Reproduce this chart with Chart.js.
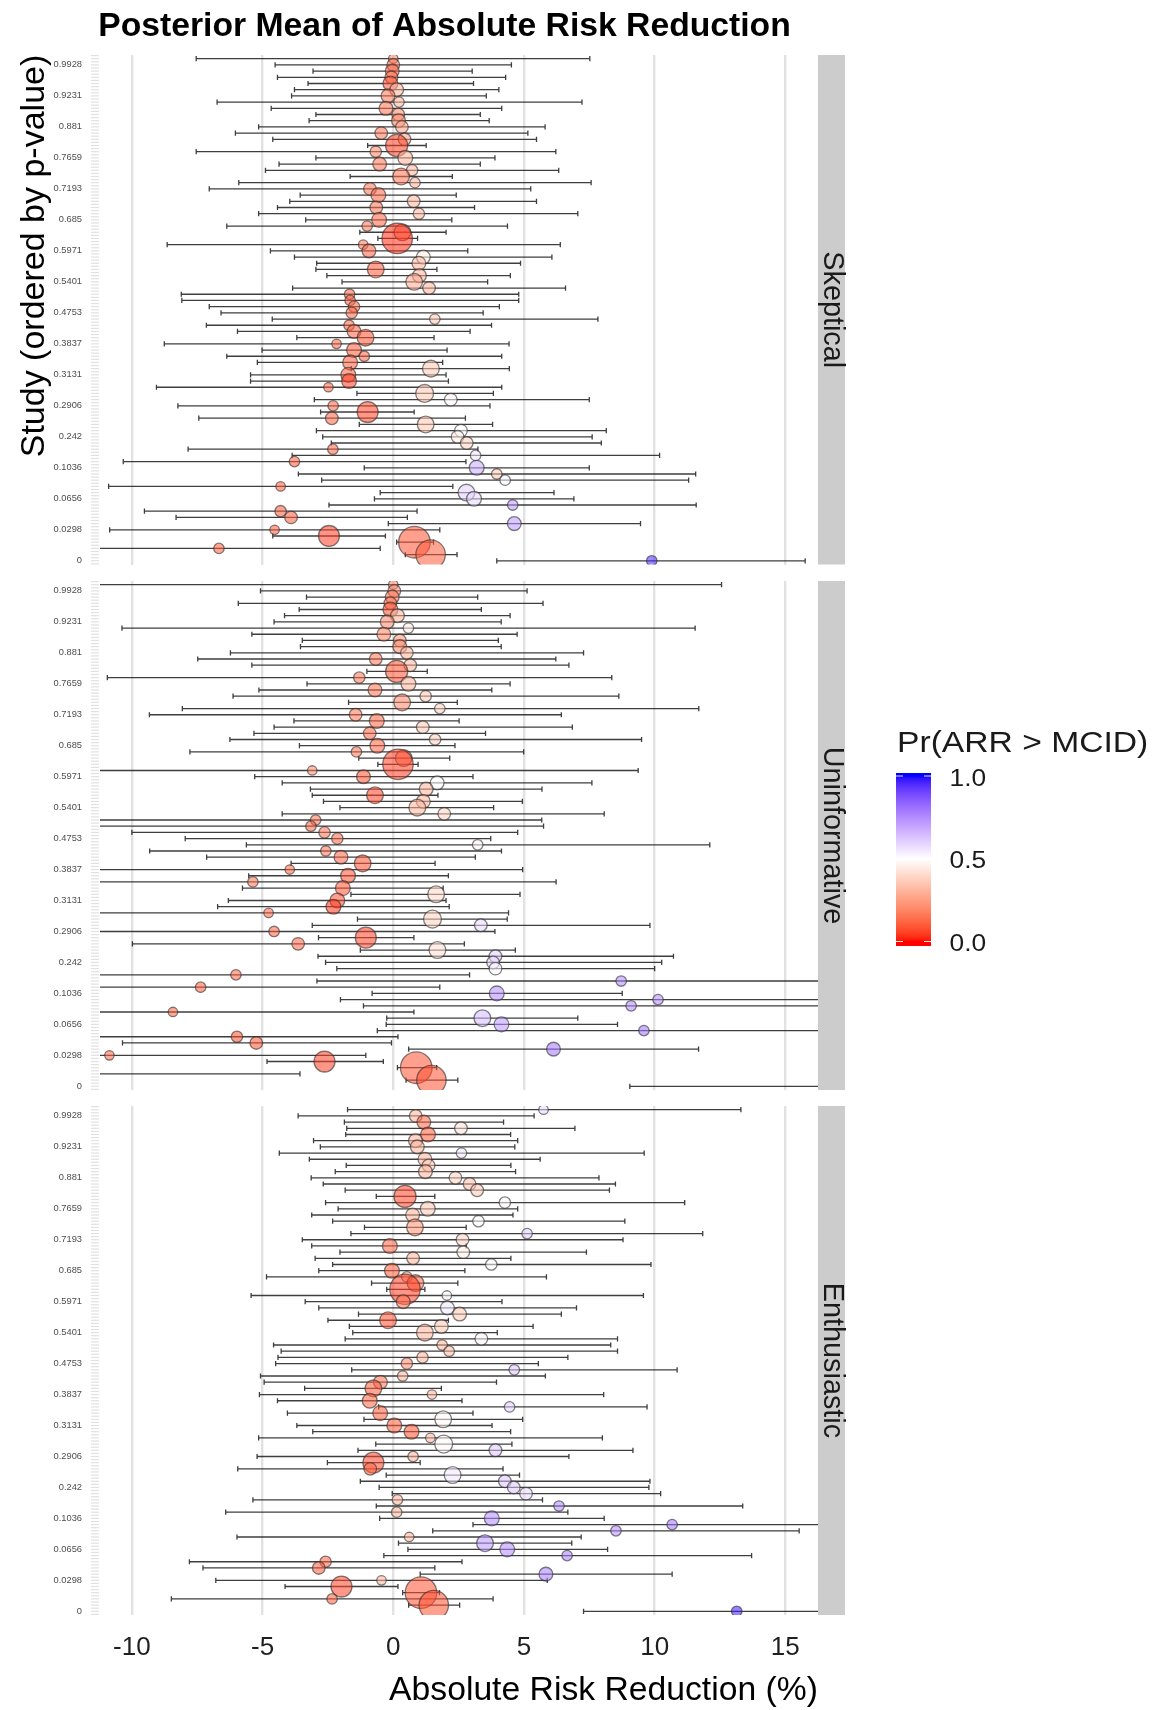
<!DOCTYPE html>
<html>
<head>
<meta charset="utf-8">
<script src="https://cdn.jsdelivr.net/npm/chart.js@4.4.1/dist/chart.umd.min.js"></script>
<style>
  body { margin: 0; background: #fff; }
  #wrap { position: relative; width: 1153px; height: 1710px; }
  #wrap canvas { position: absolute; left: 0; top: 0; }
</style>
</head>
<body>
<div id="wrap">
  <canvas id="skeptical" width="1153" height="1710"></canvas>
  <canvas id="uninformative" width="1153" height="1710"></canvas>
  <canvas id="enthusiastic" width="1153" height="1710"></canvas>
</div>
<script>
// studies top -> bottom (ordered by p-value), every 5th one labelled
var pLabels = ['0.9928','0.9231','0.881','0.7659','0.7193','0.685','0.5971','0.5401','0.4753',
  '0.3837','0.3131','0.2906','0.242','0.1036','0.0656','0.0298','0'];

// relative study weight (bubble size)
var studyWeight = [9,16,19,16,22,19,19,11,19,16, 19,16,16,16,49,13,22,19,13,28,
  11,16,22,16,16,13,22,11,28,93, 9,19,19,19,28,19,28,16,11,11,
  13,13,11,11,19,28,9,22,11,22, 28,22,22,9,32,16,11,44,16,28,
  16,16,16,11,11,11,22,11,11,9, 28,22,11,13,16,19,9,44,100,11, 87,11];

// Skeptical prior
var skepMean = [0.0,0.0,-0.04,-0.07,-0.11,0.13,-0.2,0.22,-0.28,0.19,
  0.2,0.33,-0.46,0.43,0.13,-0.67,0.46,-0.52,0.72,0.3,
  0.83,-0.89,-0.57,0.78,-0.65,0.98,-0.54,-1.0,0.35,0.15,
  -1.15,-0.93,1.15,0.98,-0.67,1.0,0.8,1.37,-1.67,-1.65,
  -1.5,-1.59,1.59,-1.69,-1.5,-1.06,-2.17,-1.5,-1.11,-1.65,
  1.44,-1.72,-1.69,-2.48,1.2,2.2,-2.3,-0.98,-2.35,1.24,
  2.59,2.46,2.81,-2.31,3.15,-3.78,3.19,3.96,4.28,-4.31,
  2.8,3.09,4.57,-4.31,-3.91,4.63,-4.54,-2.46,0.81,-6.67, 1.43,9.89];
var skepLo = [-7.54,-4.52,-3.07,-4.43,-3.26,-3.78,-3.89,-6.74,-4.67,-2.96,
  -3.22,-5.15,-6.04,-4.61,-0.98,-7.54,-2.96,-4.37,-4.89,-1.65,
  -5.91,-7.04,-3.56,-3.96,-4.43,-5.15,-3.35,-6.37,-1.28,-0.59,
  -8.65,-4.7,-3.78,-2.93,-2.96,-2.54,-1.96,-3.85,-8.11,-8.09,
  -7.04,-6.59,-4.63,-7.15,-5.96,-3.69,-8.76,-5.02,-6.37,-5.2,
  -1.61,-5.46,-5.46,-9.06,-1.39,-3.02,-8.24,-2.78,-7.44,-1.3,
  -2.94,-2.7,-2.37,-7.85,-3.87,-10.33,-1.11,-3.63,-2.74,-10.89,
  -0.5,-0.72,-2.46,-9.52,-8.31,-0.19,-10.85,-4.61,0.13,-11.8, 0.46,3.96];
var skepHi = [7.52,4.52,3.02,4.3,3.07,4.04,3.56,7.22,4.15,3.33,
  3.67,5.81,5.15,5.48,1.26,6.22,3.89,3.33,6.33,2.26,
  7.57,5.26,2.41,5.48,3.11,7.06,2.24,4.37,2.02,0.93,
  6.39,2.85,6.07,4.87,1.67,4.48,3.61,6.59,4.8,4.8,
  4.06,3.44,7.83,3.76,2.94,1.56,4.43,2.06,4.15,1.89,
  4.44,2.02,2.11,4.15,3.83,7.5,3.7,0.8,2.76,3.8,
  8.15,7.61,7.96,3.24,10.19,2.78,7.5,11.57,11.3,2.28,
  6.15,6.91,11.59,0.91,0.54,9.46,1.78,-0.3,1.54,-0.5, 2.44,15.76];
var skepProb = [0.2,0.15,0.12,0.15,0.08,0.3,0.15,0.3,0.15,0.2,
  0.2,0.25,0.15,0.25,0.05,0.18,0.3,0.15,0.3,0.15,
  0.3,0.15,0.12,0.3,0.15,0.3,0.12,0.15,0.15,0.03,
  0.15,0.12,0.45,0.3,0.1,0.3,0.28,0.3,0.12,0.12,
  0.12,0.12,0.35,0.12,0.12,0.08,0.12,0.1,0.12,0.1,
  0.35,0.1,0.05,0.12,0.35,0.48,0.12,0.06,0.12,0.35,
  0.5,0.45,0.38,0.12,0.55,0.1,0.68,0.35,0.52,0.1,
  0.6,0.58,0.72,0.1,0.1,0.72,0.1,0.05,0.08,0.1, 0.1,0.95];

// Uninformative prior
var uninfMean = [0.0,0.04,-0.04,-0.11,-0.11,0.16,-0.23,0.58,-0.36,0.25,
  0.25,0.52,-0.67,0.65,0.13,-1.3,0.58,-0.7,1.24,0.34,
  1.78,-1.44,-0.63,1.13,-0.9,1.6,-0.61,-1.41,0.4,0.18,
  -3.1,-1.14,1.68,1.26,-0.7,1.15,0.92,1.95,-2.97,-3.15,
  -2.63,-2.14,3.23,-2.58,-2.0,-1.17,-3.96,-1.73,-5.37,-1.93,
  1.64,-2.14,-2.29,-4.77,1.5,3.35,-4.56,-1.05,-3.64,1.69,
  3.91,3.82,3.91,-6.02,8.72,-7.37,3.96,10.13,9.1,-8.43,
  3.41,4.14,9.59,-5.98,-5.24,6.13,-10.86,-2.63,0.88,-12.6, 1.46,18.4];
var uninfLo = [-12.6,-5.08,-3.32,-5.93,-3.6,-4.16,-4.56,-10.38,-5.41,-3.48,
  -3.55,-6.23,-7.48,-5.41,-1.01,-10.94,-3.3,-5.14,-6.13,-1.71,
  -8.07,-9.33,-3.8,-4.56,-5.33,-6.25,-3.59,-7.78,-1.32,-0.59,
  -13.2,-5.3,-4.25,-3.17,-3.1,-2.67,-2.04,-4.25,-11.8,-12.1,
  -10.0,-7.96,-5.62,-9.32,-7.14,-3.91,-12.9,-5.53,-17.0,-5.77,
  -1.62,-6.31,-6.72,-13.9,-1.37,-3.1,-13.0,-2.86,-9.98,-1.26,
  -2.88,-2.59,-2.16,-15.0,-2.92,-16.5,-0.81,-2.02,-1.14,-17.6,
  -0.25,-0.27,-0.61,-12.1,-10.36,0.59,-20.7,-4.83,0.16,-21.6, 0.49,9.05];
var uninfHi = [12.56,5.12,3.23,5.73,3.37,4.47,4.13,11.55,4.74,4.02,
  4.13,7.28,6.22,6.72,1.3,8.36,4.47,3.77,8.63,2.45,
  11.69,6.43,2.52,6.85,3.53,9.5,2.36,4.99,2.16,0.95,
  9.37,3.05,7.6,5.69,1.71,4.94,3.84,8.07,5.68,5.75,
  4.76,3.73,12.11,4.14,3.14,1.6,4.95,2.11,6.23,1.91,
  4.85,2.02,2.14,4.41,4.36,9.82,3.89,0.79,2.72,4.67,
  10.72,10.27,10.0,2.92,20.4,1.78,8.76,22.3,19.3,0.79,
  7.06,8.58,19.8,0.18,-0.07,11.68,-1.05,-0.38,1.66,-3.57, 2.47,27.8];
var uninfProb = [0.2,0.2,0.15,0.15,0.08,0.3,0.2,0.45,0.18,0.22,
  0.2,0.3,0.15,0.3,0.08,0.15,0.3,0.15,0.35,0.2,
  0.38,0.15,0.12,0.35,0.12,0.38,0.12,0.15,0.15,0.05,
  0.2,0.08,0.5,0.3,0.06,0.3,0.3,0.38,0.15,0.12,
  0.15,0.12,0.48,0.15,0.12,0.08,0.12,0.08,0.15,0.08,
  0.4,0.08,0.04,0.12,0.38,0.58,0.12,0.06,0.12,0.42,
  0.6,0.58,0.52,0.12,0.75,0.1,0.75,0.75,0.75,0.12,
  0.65,0.72,0.8,0.08,0.08,0.8,0.12,0.05,0.08,0.1, 0.08,0.95];

// Enthusiastic prior
var enthMean = [5.75,0.86,1.17,2.59,1.33,0.85,0.92,2.61,1.21,1.35,
  1.23,2.38,2.92,3.21,0.45,4.27,1.32,0.74,3.26,0.83,
  5.12,2.65,-0.13,2.68,0.76,3.75,-0.05,0.52,0.85,0.45,
  2.05,0.38,2.07,2.54,-0.2,1.84,1.21,3.37,1.87,2.14,
  1.12,0.52,4.63,0.36,-0.49,-0.76,1.48,-0.9,4.45,-0.5,
  1.91,0.04,0.7,1.42,1.93,3.91,0.76,-0.76,-0.88,2.27,
  4.27,4.61,5.08,0.16,6.34,0.13,3.77,10.67,8.52,0.61,
  3.51,4.36,6.65,-2.59,-2.85,5.84,-0.45,-1.98,1.06,-2.34, 1.55,13.14];
var enthLo = [-1.75,-3.64,-1.87,-1.78,-1.82,-3.05,-2.79,-4.36,-3.21,-1.8,
  -2.22,-3.14,-2.68,-1.84,-0.65,-2.59,-2.11,-3.12,-2.32,-1.1,
  -1.62,-3.48,-3.12,-2.04,-2.99,-2.32,-2.85,-4.85,-0.83,-0.25,
  -5.44,-3.37,-2.85,-1.33,-2.5,-1.68,-1.55,-1.84,-4.58,-4.29,
  -4.41,-4.5,-1.59,-5.08,-4.94,-3.39,-5.12,-4.43,-0.56,-4.05,
  -1.12,-3.69,-3.08,-5.15,-0.67,-1.35,-5.21,-2.52,-5.95,-0.27,
  -1.26,-0.54,-0.04,-5.37,-0.65,-6.41,-0.52,3.05,1.51,-5.98,
  0.2,0.56,-0.36,-7.8,-7.28,1.03,-6.79,-4.14,0.36,-8.49, 0.59,7.28];
var enthHi = [13.3,5.39,4.22,6.95,4.49,4.76,4.65,9.6,5.62,4.5,
  4.68,7.87,8.5,8.27,1.59,11.15,4.76,4.58,8.86,2.79,
  11.84,8.79,2.79,7.39,4.5,9.86,2.74,5.86,2.47,1.21,
  9.57,4.16,7.01,6.43,2.11,5.35,3.98,8.58,8.32,8.58,
  6.68,5.55,10.86,5.82,3.95,1.84,8.05,2.63,9.71,3.05,
  4.95,3.78,4.49,8.0,4.54,9.17,6.72,1.03,4.2,4.83,
  9.82,9.78,10.23,5.71,13.37,6.68,8.07,18.3,15.53,7.19,
  6.83,8.2,13.71,2.63,1.59,10.67,5.89,0.18,1.77,3.82, 2.54,19.1];
var enthProb = [0.58,0.3,0.12,0.42,0.1,0.3,0.3,0.56,0.3,0.35,
  0.3,0.38,0.33,0.35,0.06,0.48,0.35,0.3,0.5,0.22,
  0.6,0.38,0.12,0.45,0.3,0.5,0.1,0.3,0.12,0.05,
  0.48,0.15,0.55,0.35,0.08,0.35,0.3,0.48,0.3,0.32,
  0.3,0.2,0.62,0.3,0.15,0.1,0.3,0.12,0.6,0.1,
  0.48,0.1,0.08,0.3,0.48,0.62,0.3,0.06,0.12,0.55,
  0.62,0.62,0.58,0.3,0.75,0.3,0.75,0.8,0.75,0.3,
  0.72,0.75,0.78,0.12,0.1,0.78,0.3,0.06,0.08,0.1, 0.08,0.97];

var legendBreaks = [0, 0.5, 1];
var legendLabels = ['0.0', '0.5', '1.0'];

Chart.defaults.font.family = "'Liberation Sans', Arial, Helvetica, sans-serif";

// red - white - blue gradient, interpolated in Lab like ggplot's gradient2
function toLin(c) { c /= 255; return c <= 0.04045 ? c / 12.92 : Math.pow((c + 0.055) / 1.055, 2.4); }
function fromLin(c) {
  var v = c <= 0.0031308 ? 12.92 * c : 1.055 * Math.pow(c, 1 / 2.4) - 0.055;
  return Math.round(Math.max(0, Math.min(1, v)) * 255);
}
function rgbToLab(c) {
  var r = toLin(c[0]), g = toLin(c[1]), b = toLin(c[2]);
  var X = (0.4124 * r + 0.3576 * g + 0.1805 * b) / 0.95047;
  var Y = 0.2126 * r + 0.7152 * g + 0.0722 * b;
  var Z = (0.0193 * r + 0.1192 * g + 0.9505 * b) / 1.08883;
  var f = function (t) { return t > 0.008856 ? Math.cbrt(t) : 7.787 * t + 16 / 116; };
  return [116 * f(Y) - 16, 500 * (f(X) - f(Y)), 200 * (f(Y) - f(Z))];
}
function labToRgb(l) {
  var fy = (l[0] + 16) / 116, fx = fy + l[1] / 500, fz = fy - l[2] / 200;
  var inv = function (t) { return t * t * t > 0.008856 ? t * t * t : (t - 16 / 116) / 7.787; };
  var X = inv(fx) * 0.95047, Y = inv(fy), Z = inv(fz) * 1.08883;
  return [fromLin(3.2406 * X - 1.5372 * Y - 0.4986 * Z),
          fromLin(-0.9689 * X + 1.8758 * Y + 0.0415 * Z),
          fromLin(0.0557 * X - 0.2040 * Y + 1.0570 * Z)];
}
var LAB_LOW = rgbToLab([255, 0, 0]), LAB_MID = rgbToLab([255, 255, 255]), LAB_HIGH = rgbToLab([0, 0, 255]);
function probColor(p, alpha) {
  var a, b, t;
  if (p < 0.5) { a = LAB_LOW; b = LAB_MID; t = p / 0.5; } else { a = LAB_MID; b = LAB_HIGH; t = (p - 0.5) / 0.5; }
  var c = labToRgb([a[0] + (b[0] - a[0]) * t, a[1] + (b[1] - a[1]) * t, a[2] + (b[2] - a[2]) * t]);
  return 'rgba(' + c[0] + ',' + c[1] + ',' + c[2] + ',' + alpha + ')';
}

function rowLabel(v) {
  if (v % 1 !== 0 || (v - 1) % 5 !== 0) return '';
  return pLabels[(v - 1) / 5];
}

var PANEL_LEFT = 100, PANEL_RIGHT = 818, STRIP_W = 27;
var X_MIN = -11.22, X_MAX = 16.25;
var PAGE_H = 1710;
var FONT = "'Liberation Sans', Arial, sans-serif";

// legend text in the reference is drawn a little wide
function wideText(ctx, text, x, y, font, align, widen) {
  ctx.save();
  ctx.font = font;
  ctx.textAlign = align;
  ctx.textBaseline = 'alphabetic';
  ctx.translate(x, y);
  ctx.scale(widen, 1);
  ctx.fillText(text, 0, 0);
  ctx.restore();
}

function drawDecor(ctx) {
  ctx.save();
  ctx.fillStyle = '#000';
  wideText(ctx, 'Posterior Mean of Absolute Risk Reduction', 444.5, 36, 'bold 33.7px ' + FONT, 'center', 1);

  // y axis title
  ctx.save();
  ctx.translate(44, 256);
  ctx.rotate(-Math.PI / 2);
  ctx.font = '34px ' + FONT;
  ctx.textAlign = 'center';
  ctx.fillText('Study (ordered by p-value)', 0, 0);
  ctx.restore();

  // colour bar legend
  ctx.fillStyle = '#1a1a1a';
  wideText(ctx, 'Pr(ARR > MCID)', 897, 752, '30.3px ' + FONT, 'left', 1.11);
  var barX = 896, barW = 35, barTop = 773, barBot = 946, p1 = 776, p0 = 941.5;
  for (var yy = barTop; yy < barBot; yy++) {
    var p = Math.max(0, Math.min(1, (p0 - (yy + 0.5)) / (p0 - p1)));
    ctx.fillStyle = probColor(p, 1);
    ctx.fillRect(barX, yy, barW, 1);
  }
  ctx.strokeStyle = 'rgba(255,255,255,0.9)';
  ctx.lineWidth = 1.2;
  legendBreaks.forEach(function (b, i) {
    var py = p0 - b * (p0 - p1);
    ctx.beginPath();
    ctx.moveTo(barX, py); ctx.lineTo(barX + 7, py);
    ctx.moveTo(barX + barW - 7, py); ctx.lineTo(barX + barW, py);
    ctx.stroke();
    ctx.fillStyle = '#1a1a1a';
    wideText(ctx, legendLabels[i], 949.5, py + 9.5, '23.5px ' + FONT, 'left', 1.12);
  });
  ctx.restore();
}

function makePanel(canvasId, stripText, mean, lo, hi, prob, top, bottom, showX, extra) {
  var rows = mean.map(function (m, i) {
    return {x: m, y: i, r: 1.58 * Math.sqrt(studyWeight[i])};
  });

  var facetPlugin = {
    id: 'facet_' + canvasId,
    beforeDatasetsDraw: function (chart) {
      var ctx = chart.ctx, area = chart.chartArea, xs = chart.scales.x, ys = chart.scales.y;
      ctx.save();
      ctx.beginPath();
      ctx.rect(area.left, area.top, area.right - area.left, area.bottom - area.top);
      ctx.clip();
      ctx.strokeStyle = 'rgba(20,20,20,0.82)';
      ctx.lineWidth = 1.3;
      for (var i = 0; i < lo.length; i++) {
        var py = ys.getPixelForValue(i);
        var x0 = xs.getPixelForValue(lo[i]), x1 = xs.getPixelForValue(hi[i]);
        ctx.beginPath();
        ctx.moveTo(x0, py); ctx.lineTo(x1, py);
        ctx.moveTo(x0, py - 2.6); ctx.lineTo(x0, py + 2.6);
        ctx.moveTo(x1, py - 2.6); ctx.lineTo(x1, py + 2.6);
        ctx.stroke();
      }
      ctx.restore();
    },
    afterDraw: function (chart) {
      var ctx = chart.ctx, area = chart.chartArea, ys = chart.scales.y;
      ctx.save();
      // faint tick dashes along the study axis
      ctx.strokeStyle = '#e1e1e1';
      ctx.lineWidth = 1.2;
      for (var v = -0.5; v <= 81.5; v += 0.5) {
        var py = ys.getPixelForValue(v);
        ctx.beginPath();
        ctx.moveTo(91, py); ctx.lineTo(99, py);
        ctx.stroke();
      }
      // facet strip
      ctx.fillStyle = '#cccccc';
      ctx.fillRect(area.right, area.top, STRIP_W, area.bottom - area.top);
      ctx.translate(area.right + STRIP_W / 2, (area.top + area.bottom) / 2);
      ctx.rotate(Math.PI / 2);
      ctx.fillStyle = '#1a1a1a';
      ctx.font = '28.8px ' + FONT;
      ctx.textAlign = 'center';
      ctx.textBaseline = 'middle';
      ctx.fillText(stripText, 0, 0);
      ctx.restore();

      if (extra === 'head') drawDecor(ctx);
      if (extra === 'foot') {
        ctx.save();
        ctx.fillStyle = '#000';
        wideText(ctx, 'Absolute Risk Reduction (%)', 603.5, 1700, '33.7px ' + FONT, 'center', 1);
        ctx.restore();
      }
    }
  };

  var xAxisH = showX ? 60 : 0;

  return new Chart(document.getElementById(canvasId), {
    type: 'bubble',
    data: {
      datasets: [{
        data: rows,
        clip: 0,
        backgroundColor: function (c) { return probColor(prob[c.dataIndex], 0.55); },
        borderColor: 'rgba(45,45,45,0.6)',
        borderWidth: 1.3
      }]
    },
    options: {
      responsive: false,
      animation: false,
      events: [],
      layout: {padding: {left: 0, right: 1153 - PANEL_RIGHT, top: top, bottom: PAGE_H - bottom - xAxisH}},
      plugins: {legend: {display: false}, tooltip: {enabled: false}},
      scales: {
        x: {
          type: 'linear',
          min: X_MIN,
          max: X_MAX,
          border: {display: false},
          grid: {color: '#e2e2e2', lineWidth: 2.4, drawTicks: false},
          ticks: {
            display: showX, stepSize: 5, includeBounds: false, maxRotation: 0,
            padding: 17, color: '#1f1f1f', font: {size: 26}
          },
          afterFit: function (s) { s.height = xAxisH; s.paddingLeft = 0; s.paddingRight = 0; }
        },
        y: {
          type: 'linear',
          reverse: true,
          min: -0.6,
          max: 81.6,
          border: {display: false},
          grid: {display: false, drawTicks: false},
          ticks: {
            stepSize: 1, includeBounds: false, autoSkip: false, padding: 18,
            color: '#4d4d4d', font: {size: 9.3},
            callback: function (v) { return rowLabel(v); }
          },
          afterFit: function (s) { s.width = PANEL_LEFT; s.paddingTop = 0; s.paddingBottom = 0; }
        }
      }
    },
    plugins: [facetPlugin]
  });
}

makePanel('skeptical', 'Skeptical', skepMean, skepLo, skepHi, skepProb, 55, 564.5, false, 'head');
makePanel('uninformative', 'Uninformative', uninfMean, uninfLo, uninfHi, uninfProb, 581, 1090, false, null);
makePanel('enthusiastic', 'Enthusiastic', enthMean, enthLo, enthHi, enthProb, 1106, 1615, true, 'foot');
</script>
</body>
</html>
